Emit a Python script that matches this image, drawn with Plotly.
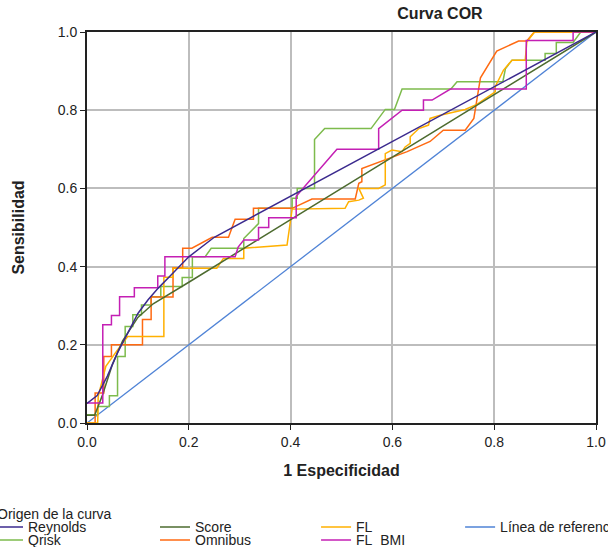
import plotly.graph_objects as go

# ---------------- data ----------------
reynolds_x = [0.0, 0.02, 0.04, 0.06, 0.08, 0.10, 0.12, 0.14, 0.17, 0.20, 0.25, 0.30, 0.40, 1.0]
reynolds_y = [0.05, 0.07, 0.12, 0.18, 0.23, 0.28, 0.315, 0.345, 0.385, 0.425, 0.475, 0.51, 0.58, 1.0]

score_x = [0.0, 0.015, 0.03, 0.05, 0.07, 0.10, 0.13, 0.20, 0.40, 1.0]
score_y = [0.02, 0.02, 0.07, 0.15, 0.21, 0.27, 0.305, 0.36, 0.52, 1.0]

fl_x = [0.0, 0.021, 0.022, 0.037, 0.060, 0.077, 0.080, 0.151, 0.151, 0.169, 0.169, 0.255, 0.268, 0.308,
        0.308, 0.393, 0.400, 0.403, 0.507, 0.514, 0.534, 0.543, 0.534, 0.573, 0.586, 0.586, 0.599, 0.619,
        0.625, 0.635, 0.635, 0.652, 0.671, 0.674, 0.694, 0.743, 0.766, 0.802, 0.802, 0.818, 0.835, 0.861,
        0.864, 0.879, 1.0]
fl_y = [0.0, 0.0, 0.068, 0.145, 0.187, 0.217, 0.221, 0.221, 0.373, 0.373, 0.396, 0.396, 0.421, 0.421,
        0.447, 0.455, 0.519, 0.547, 0.549, 0.566, 0.570, 0.575, 0.600, 0.600, 0.609, 0.689, 0.698, 0.694,
        0.706, 0.715, 0.732, 0.753, 0.762, 0.779, 0.787, 0.802, 0.815, 0.847, 0.860, 0.902, 0.928, 0.928,
        0.974, 1.0, 1.0]

ref_x = [0.0, 1.0]
ref_y = [0.0, 1.0]

qrisk_x = [0.0, 0.021, 0.021, 0.044, 0.044, 0.060, 0.060, 0.075, 0.075, 0.090, 0.090, 0.107, 0.107, 0.126,
           0.126, 0.145, 0.145, 0.187, 0.187, 0.207, 0.207, 0.232, 0.244, 0.308, 0.308, 0.337, 0.337,
           0.403, 0.403, 0.413, 0.413, 0.447, 0.447, 0.467, 0.558, 0.586, 0.604, 0.619, 0.715, 0.727,
           0.817, 0.822, 0.835, 0.900, 0.900, 0.922, 0.922, 0.955, 0.970, 1.0]
qrisk_y = [0.021, 0.021, 0.042, 0.042, 0.070, 0.070, 0.170, 0.170, 0.247, 0.247, 0.277, 0.277, 0.302, 0.302,
           0.323, 0.323, 0.349, 0.349, 0.372, 0.372, 0.425, 0.425, 0.447, 0.447, 0.472, 0.510, 0.549,
           0.549, 0.575, 0.575, 0.600, 0.600, 0.725, 0.753, 0.753, 0.802, 0.802, 0.854, 0.854, 0.873,
           0.873, 0.906, 0.928, 0.928, 0.945, 0.945, 0.973, 0.973, 1.0, 1.0]

omnibus_x = [0.0, 0.016, 0.016, 0.033, 0.033, 0.048, 0.048, 0.109, 0.109, 0.126, 0.126, 0.169, 0.169, 0.188,
             0.188, 0.206, 0.246, 0.278, 0.291, 0.327, 0.327, 0.403, 0.442, 0.527, 0.534, 0.540, 0.540,
             0.583, 0.629, 0.674, 0.700, 0.743, 0.760, 0.773, 0.805, 0.848, 0.864, 0.877, 0.880, 1.0]
omnibus_y = [0.0, 0.0, 0.077, 0.077, 0.170, 0.170, 0.200, 0.200, 0.265, 0.265, 0.322, 0.322, 0.397, 0.397,
             0.447, 0.447, 0.475, 0.475, 0.521, 0.521, 0.549, 0.549, 0.573, 0.573, 0.613, 0.617, 0.651,
             0.672, 0.694, 0.720, 0.749, 0.749, 0.779, 0.883, 0.951, 0.977, 0.977, 0.997, 1.0, 1.0]

flbmi_x = [0.0, 0.031, 0.031, 0.048, 0.048, 0.064, 0.064, 0.093, 0.093, 0.139, 0.139, 0.153, 0.153, 0.291,
           0.297, 0.308, 0.337, 0.337, 0.357, 0.357, 0.411, 0.411, 0.491, 0.573, 0.573, 0.619, 0.661,
           0.661, 0.678, 0.714, 0.863, 0.863, 0.955, 0.955, 1.0]
flbmi_y = [0.051, 0.051, 0.251, 0.251, 0.275, 0.275, 0.323, 0.323, 0.346, 0.346, 0.376, 0.376, 0.425, 0.425,
           0.450, 0.468, 0.468, 0.500, 0.500, 0.525, 0.525, 0.580, 0.700, 0.700, 0.753, 0.800, 0.800,
           0.826, 0.826, 0.854, 0.854, 0.978, 0.978, 1.0, 1.0]

x_ticks = [0.0, 0.2, 0.4, 0.6, 0.8, 1.0]
y_ticks = [0.0, 0.2, 0.4, 0.6, 0.8, 1.0]

series = [
    ("Reynolds", reynolds_x, reynolds_y, "#3b2a8e", "legend"),
    ("Score", score_x, score_y, "#4d6b2f", "legend3"),
    ("FL", fl_x, fl_y, "#ffb000", "legend5"),
    ("Línea de referencia", ref_x, ref_y, "#4f83d6", "legend7"),
    ("Qrisk", qrisk_x, qrisk_y, "#7dbb4c", "legend2"),
    ("Omnibus", omnibus_x, omnibus_y, "#ff6a12", "legend4"),
    ("FL_BMI", flbmi_x, flbmi_y, "#c41fb4", "legend6"),
]

FONT = "Liberation Sans, Arial, sans-serif"

fig = go.Figure()
# draw reference first so the curves sit on top of it
order = [3, 4, 5, 2, 1, 6, 0]
for i in order:
    name, xs, ys, col, lg = series[i]
    fig.add_trace(go.Scatter(
        x=xs, y=ys, mode="lines", name=name,
        line=dict(color=col, width=1.5 if i != 3 else 1.3),
        legend=lg, showlegend=True,
    ))

# legend columns/rows positions (paper coords)
col_x = [-0.1945, 0.1336, 0.4500, 0.7330]
row_y = [-0.267, -0.300]
legend_pos = {
    "legend": (col_x[0], row_y[0]),
    "legend2": (col_x[0], row_y[1]),
    "legend3": (col_x[1], row_y[0]),
    "legend4": (col_x[1], row_y[1]),
    "legend5": (col_x[2], row_y[0]),
    "legend6": (col_x[2], row_y[1]),
    "legend7": (col_x[3], row_y[0]),
}
legend_layout = {}
for key, (lx, ly) in legend_pos.items():
    legend_layout[key] = dict(
        x=lx, y=ly, xanchor="left", yanchor="middle",
        orientation="v", bgcolor="rgba(0,0,0,0)", borderwidth=0,
        font=dict(family=FONT, size=14, color="#222222"),
        itemwidth=30, tracegroupgap=0,
    )

fig.update_layout(
    width=608, height=547,
    margin=dict(l=87, r=12, t=32, b=124, autoexpand=False),
    paper_bgcolor="white", plot_bgcolor="white",
    font=dict(family=FONT, size=14, color="#222222"),
    title=dict(text="Curva COR", x=440 / 608, xref="container", xanchor="center",
               y=1 - 13 / 547, yref="container", yanchor="middle",
               font=dict(family=FONT, size=16, color="#222222", weight="bold")),
    **legend_layout,
)

fig.add_annotation(text="Origen de la curva", xref="paper", yref="paper",
                   x=(-5 - 87) / 509, y=(423.3 - 514) / 391.6, xanchor="left", yanchor="middle",
                   showarrow=False, font=dict(family=FONT, size=14, color="#222222"))

axis_common = dict(
    range=[0, 1], showgrid=True, gridcolor="#bdbdbd", gridwidth=1.5,
    zeroline=False, showline=True, linecolor="#222222", linewidth=1.8, mirror=True,
    ticks="outside", ticklen=5, tickcolor="#222222", tickwidth=1.2,
    tickformat=".1f", tickfont=dict(family=FONT, size=14, color="#222222"),
)
fig.update_xaxes(**axis_common, tickvals=x_ticks,
                 title=dict(text="1 Especificidad", standoff=16,
                            font=dict(family=FONT, size=16, color="#222222", weight="bold")))
fig.update_yaxes(**axis_common, tickvals=y_ticks,
                 title=dict(text="Sensibilidad", standoff=29,
                            font=dict(family=FONT, size=16, color="#222222", weight="bold")))

fig.write_html("out.html", config={"displayModeBar": False},
               post_script="document.body.style.margin='0px';")
